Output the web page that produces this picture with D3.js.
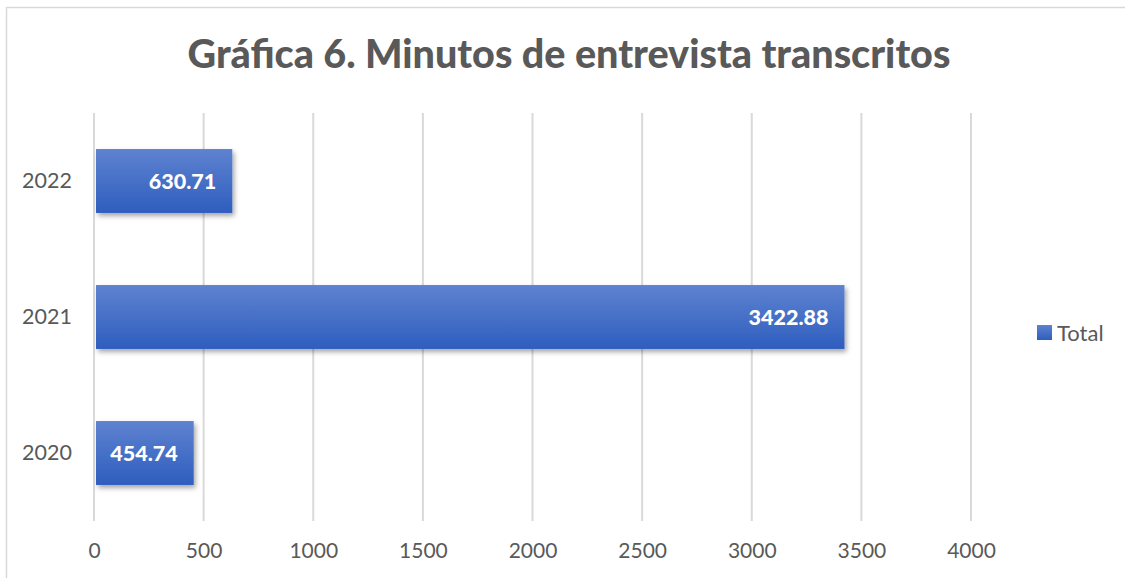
<!DOCTYPE html>
<html>
<head>
<meta charset="utf-8">
<script src="https://cdn.jsdelivr.net/npm/d3@7"></script>
<style>
  body { margin: 0; background: #fff; }
  svg { display: block; font-family: Lato, "Open Sans", sans-serif; }
</style>
</head>
<body>
<svg id="chart" width="1125" height="578"></svg>
<script>
  // Gráfica 6 — minutos de entrevista transcritos por año
  var years = ['2022', '2021', '2020'];
  var minutes = [630.71, 3422.88, 454.74];
  var xTicks = [0, 500, 1000, 1500, 2000, 2500, 3000, 3500, 4000];
  var seriesName = 'Total';

  var W = 1125, H = 578;
  var margin = { top: 113, left: 94, right: 154, bottom: 57 };
  var svg = d3.select('#chart');

  // marco del gráfico
  svg.append('rect')
    .attr('x', 6.5).attr('y', 7.5)
    .attr('width', W + 20).attr('height', H + 20)
    .attr('fill', 'none').attr('stroke', '#d9d9d9').attr('stroke-width', 1.5);

  var defs = svg.append('defs');
  var grad = defs.append('linearGradient')
    .attr('id', 'barGrad').attr('x1', 0).attr('y1', 0).attr('x2', 0).attr('y2', 1);
  grad.append('stop').attr('offset', '0%').attr('stop-color', '#5e82d0');
  grad.append('stop').attr('offset', '100%').attr('stop-color', '#2e5ebe');

  var shadow = defs.append('filter').attr('id', 'shadow')
    .attr('x', '-10%').attr('y', '-20%').attr('width', '130%').attr('height', '160%');
  shadow.append('feDropShadow')
    .attr('dx', 2).attr('dy', 3).attr('stdDeviation', 2.5)
    .attr('flood-color', '#000').attr('flood-opacity', 0.35);

  var x = d3.scaleLinear().domain([0, 4000]).range([margin.left, margin.left + 877]);
  var y = d3.scaleBand().domain(years).range([margin.top, H - margin.bottom]).paddingInner(0.53).paddingOuter(0.265);

  // líneas de cuadrícula
  svg.append('g')
    .selectAll('line')
    .data(xTicks)
    .join('line')
    .attr('x1', function (d) { return x(d); })
    .attr('x2', function (d) { return x(d); })
    .attr('y1', margin.top)
    .attr('y2', H - margin.bottom)
    .attr('stroke', '#d9d9d9')
    .attr('stroke-width', 2);

  // eje X
  var xAxis = svg.append('g')
    .attr('transform', 'translate(0,' + (H - margin.bottom) + ')')
    .call(d3.axisBottom(x).tickValues(xTicks).tickSize(0).tickPadding(22).tickFormat(d3.format('d')));
  xAxis.select('.domain').remove();
  xAxis.selectAll('text').attr('fill', '#595959').attr('font-size', 21)
    .style('font-family', 'Lato, "Open Sans", sans-serif');

  // eje Y
  var yAxis = svg.append('g')
    .attr('transform', 'translate(' + margin.left + ',0)')
    .call(d3.axisLeft(y).tickSize(0).tickPadding(22));
  yAxis.select('.domain').remove();
  yAxis.selectAll('text').attr('fill', '#595959').attr('font-size', 21.5)
    .style('font-family', 'Lato, "Open Sans", sans-serif');

  // barras
  svg.append('g')
    .selectAll('rect')
    .data(years)
    .join('rect')
    .attr('x', x(0) + 2)
    .attr('y', function (d) { return y(d); })
    .attr('width', function (d, i) { return x(minutes[i]) - x(0) - 2; })
    .attr('height', y.bandwidth())
    .attr('fill', 'url(#barGrad)')
    .attr('filter', 'url(#shadow)');

  // etiquetas de datos
  svg.append('g')
    .selectAll('text')
    .data(years)
    .join('text')
    .attr('x', function (d, i) { return x(minutes[i]) - 16; })
    .attr('y', function (d) { return y(d) + y.bandwidth() / 2; })
    .attr('dy', '0.35em')
    .attr('text-anchor', 'end')
    .attr('fill', '#fff')
    .attr('font-weight', 900)
    .attr('font-size', 21.5)
    .text(function (d, i) { return minutes[i].toFixed(2); });

  // título
  svg.append('text')
    .attr('x', 569).attr('y', 68)
    .attr('text-anchor', 'middle')
    .attr('fill', '#595959')
    .attr('font-weight', 900)
    .attr('font-size', 39.5)
    .text('Gráfica 6. Minutos de entrevista transcritos');

  // leyenda
  var legend = svg.append('g').attr('transform', 'translate(1037,325)');
  legend.append('rect').attr('width', 15).attr('height', 15).attr('fill', 'url(#barGrad)');
  legend.append('text').attr('x', 20).attr('y', 8).attr('dy', '0.35em')
    .attr('fill', '#595959').attr('font-size', 22).text(seriesName);
</script>
</body>
</html>
